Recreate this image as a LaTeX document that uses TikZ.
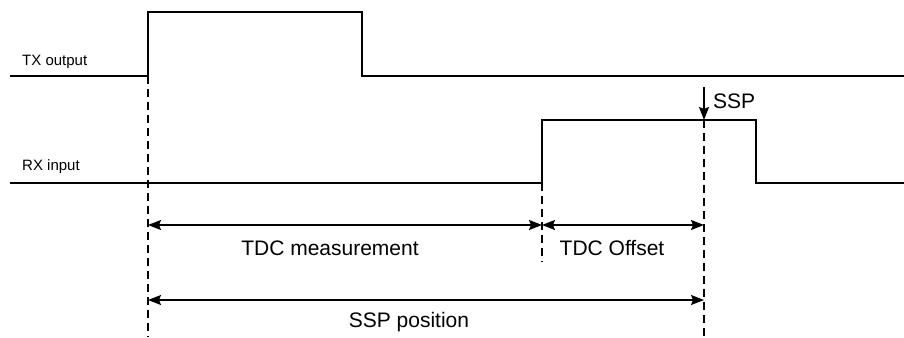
\documentclass[tikz,border=0pt]{standalone}
\usepackage{fontspec}
\setmainfont{Liberation Sans}
\usetikzlibrary{arrows.meta}

\begin{document}
\begin{tikzpicture}[
  x=1pt, y=-1pt,
  wave/.style={line width=1.7pt},
  guide/.style={line width=1.5pt, dash pattern=on 8pt off 5pt},
  dim/.style={{Stealth[length=13pt, width=10pt, inset=2pt]}-{Stealth[length=13pt, width=10pt, inset=2pt]}, line width=1.5pt},
  sig/.style={font=\fontsize{15}{18}\selectfont, anchor=west, inner sep=0pt},
  txt/.style={font=\fontsize{21}{25}\selectfont, inner sep=0pt}
]
\useasboundingbox (0,0) rectangle (904,337);

% time marks
\coordinate (t0) at (148,76);
\coordinate (t1) at (542,183);
\coordinate (t2) at (704,120);

% waveforms
\draw[wave] (10,76) -- (t0) -- (148,12) -- (362,12) -- (362,76) -- (904,76);
\draw[wave] (10,183) -- (t1) -- (542,120) -- (756,120) -- (756,183) -- (904,183);

\node[sig] (txlabel) at (22,62) {TX output};
\node[sig] (rxlabel) at (22,167) {RX input};

% guides
\draw[guide] (t0) -- (148,337);
\draw[guide] (t1) -- (542,262);
\draw[guide] (t2) -- (704,337);

% sample point
\coordinate (ssptop) at (704,87);
\draw[-{Stealth[length=13pt, width=10pt, inset=2pt]}, line width=1.5pt] (ssptop) -- (t2);
\node[txt, anchor=west] (ssp) at (713,101) {SSP};

% dimensions
\coordinate (m0) at (148,225);
\coordinate (m1) at (542,225);
\coordinate (m2) at (704,225);
\coordinate (p0) at (148,300);
\coordinate (p1) at (704,300);
\draw[dim] (m0) -- (m1);
\draw[dim] (m1) -- (m2);
\draw[dim] (p0) -- (p1);

\node[txt] (meas) at (330,248) {TDC measurement};
\node[txt] (offs) at (612,248) {TDC Offset};
\node[txt] (ssppos) at (409,322) {SSP position};
\end{tikzpicture}
\end{document}
